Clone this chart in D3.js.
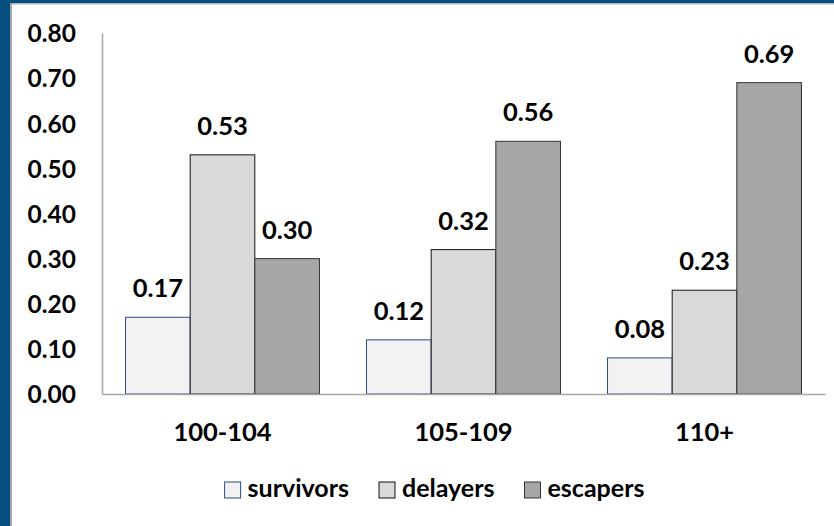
<!DOCTYPE html>
<html>
<head>
<meta charset="utf-8">
<script src="https://cdn.jsdelivr.net/npm/d3@7"></script>
<style>
  html, body { margin: 0; padding: 0; background: #fff; }
  svg { display: block; }
  text { font-family: Lato, "Open Sans", sans-serif; font-weight: bold; fill: #000; }
</style>
</head>
<body>
<svg id="chart" width="834" height="526"></svg>
<script>
// Age groups and the share of each outcome within them
const categories = ["100-104", "105-109", "110+"];
const seriesNames = ["survivors", "delayers", "escapers"];
const survivors = [0.17, 0.12, 0.08];
const delayers = [0.53, 0.32, 0.23];
const escapers = [0.30, 0.56, 0.69];
const yTicks = [0, 0.1, 0.2, 0.3, 0.4, 0.5, 0.6, 0.7, 0.8];

const seriesValues = [survivors, delayers, escapers];
const fills = ["#f2f2f2", "#d9d9d9", "#a6a6a6"];
const strokes = ["#2f4a8a", "#111111", "#333333"];

const svg = d3.select("#chart");
const W = 834, H = 526;

svg.append("rect").attr("width", W).attr("height", H).attr("fill", "#fff");

// Slide frame: blue band at left and top with a thin grey inner edge
svg.append("rect").attr("x", 0).attr("y", 0).attr("width", W).attr("height", 3).attr("fill", "#05507f");
svg.append("rect").attr("x", 0).attr("y", 3).attr("width", W).attr("height", 1.5).attr("fill", "#b4b4b4");
svg.append("rect").attr("x", 0).attr("y", 0).attr("width", 10).attr("height", H).attr("fill", "#05507f");
svg.append("rect").attr("x", 10).attr("y", 3).attr("width", 2).attr("height", H).attr("fill", "#a8a8a8");

const plot = { left: 102, right: 825, top: 33, bottom: 394 };

const x0 = d3.scaleBand().domain(categories).range([plot.left, plot.right]).paddingInner(0).paddingOuter(0);
const x1 = d3.scaleBand().domain(seriesNames).range([0, x0.bandwidth()]).paddingInner(0).paddingOuter(0.364);
const y = d3.scaleLinear().domain([0, 0.8]).range([plot.bottom, plot.top]);

const rows = categories.map((c, i) => ({
  cat: c,
  vals: seriesNames.map((s, j) => ({ s, j, v: seriesValues[j][i] }))
}));

const groups = svg.append("g").selectAll("g").data(rows).join("g")
  .attr("transform", d => `translate(${x0(d.cat)},0)`);

groups.selectAll("rect").data(d => d.vals).join("rect")
  .attr("x", d => x1(d.s))
  .attr("y", d => y(d.v))
  .attr("width", x1.bandwidth())
  .attr("height", d => y(0) - y(d.v))
  .attr("fill", d => fills[d.j])
  .attr("stroke", d => strokes[d.j])
  .attr("stroke-width", 1);

groups.selectAll("text.val").data(d => d.vals).join("text")
  .attr("class", "val")
  .attr("x", d => x1(d.s) + x1.bandwidth() / 2)
  .attr("y", d => y(d.v) - 20)
  .attr("text-anchor", "middle")
  .attr("font-size", 25.5)
  .text(d => d3.format(".2f")(d.v));

// Axes
const yAxis = d3.axisLeft(y).tickValues(yTicks).tickFormat(d3.format(".2f")).tickSize(0).tickPadding(26);
const gy = svg.append("g").attr("transform", `translate(${plot.left},0)`).call(yAxis);
gy.select(".domain").attr("stroke", "#a6a6a6").attr("stroke-width", 1.5);
gy.selectAll("text").attr("font-size", 24.5).attr("font-family", "Lato, sans-serif").attr("font-weight", "bold").attr("dy", "0.36em");

const xAxis = d3.axisBottom(x0).tickSize(0).tickPadding(29);
const gx = svg.append("g").attr("transform", `translate(0,${plot.bottom})`).call(xAxis);
gx.select(".domain").attr("stroke", "#a6a6a6").attr("stroke-width", 1.5);
gx.selectAll("text").attr("font-size", 25.5).attr("font-family", "Lato, sans-serif").attr("font-weight", "bold");

// Legend
const legend = svg.append("g");
const items = legend.selectAll("g").data(seriesNames).join("g");
items.append("rect")
  .attr("width", 16).attr("height", 16).attr("y", -16)
  .attr("fill", (d, i) => fills[i]).attr("stroke", (d, i) => strokes[i]).attr("stroke-width", 1);
items.append("text")
  .attr("x", 23).attr("y", 0).attr("dy", "-0.05em")
  .attr("font-size", 25)
  .text(d => d);
let cx = 0;
const gap = 30;
items.each(function () {
  const w = 23 + this.querySelector("text").getComputedTextLength();
  d3.select(this).attr("data-x", cx);
  cx += w + gap;
});
const total = cx - gap;
const startX = 434.5 - total / 2;
items.attr("transform", function () {
  return `translate(${startX + (+this.getAttribute("data-x"))},498)`;
});
</script>
</body>
</html>
